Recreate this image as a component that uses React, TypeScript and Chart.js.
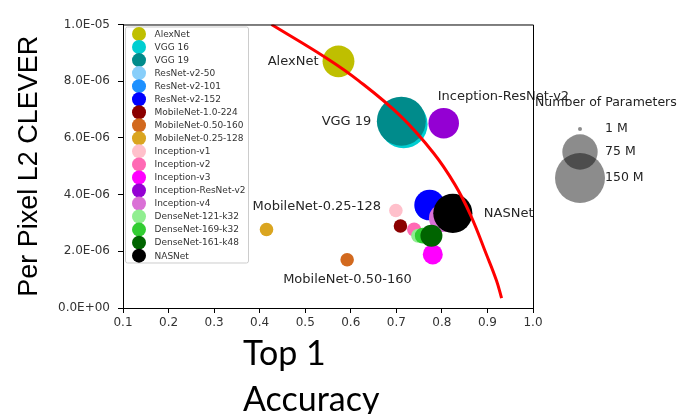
import { useEffect, useRef } from 'react';
import { Chart, registerables } from 'chart.js';

Chart.register(...registerables);

// ---------- data ----------
const models = [
  'AlexNet', 'VGG 16', 'VGG 19', 'ResNet-v2-50', 'ResNet-v2-101', 'ResNet-v2-152',
  'MobileNet-1.0-224', 'MobileNet-0.50-160', 'MobileNet-0.25-128', 'Inception-v1',
  'Inception-v2', 'Inception-v3', 'Inception-ResNet-v2', 'Inception-v4',
  'DenseNet-121-k32', 'DenseNet-169-k32', 'DenseNet-161-k48', 'NASNet',
];
const top1Accuracy = [
  0.573, 0.716, 0.711, 0.764, 0.769, 0.773,
  0.709, 0.592, 0.415, 0.699,
  0.739, 0.780, 0.804, 0.802,
  0.748, 0.758, 0.777, 0.824,
];
const cleverL2 = [
  8.70e-6, 6.48e-6, 6.59e-6, 3.55e-6, 3.58e-6, 3.63e-6,
  2.89e-6, 1.70e-6, 2.77e-6, 3.44e-6,
  2.77e-6, 1.89e-6, 6.52e-6, 3.17e-6,
  2.55e-6, 2.55e-6, 2.55e-6, 3.34e-6,
];
// number of parameters (millions)
const paramsM = [61, 138, 144, 26, 40, 56, 11, 11, 11, 11, 12, 24, 56, 46, 12, 15, 29, 92];
const modelColors = [
  '#bfbf00', '#00ced1', '#008b8b', '#87cefa', '#1e90ff', '#0000ff',
  '#8b0000', '#d2691e', '#daa520', '#ffc0cb',
  '#ff69b4', '#ff00ff', '#9400d3', '#da70d6',
  '#90ee90', '#32cd32', '#006400', '#000000',
];

// red trade-off curve
const frontierX = [0.426, 0.547, 0.617, 0.710, 0.782, 0.828, 0.863, 0.898, 0.920, 0.931];
const frontierY = [10.0e-6, 8.81e-6, 8.02e-6, 6.76e-6, 5.46e-6, 4.37e-6, 3.28e-6, 1.88e-6, 0.96e-6, 0.35e-6];

const sizeLegendParams = [1, 75, 150];
const sizeLegendLabels = ['1 M', '75 M', '150 M'];

const xTitleLines = ['Top 1', 'Accuracy'];
const yTitle = 'Per Pixel L2 CLEVER';

// ---------- styling / layout ----------
const MAX_R = 25; // radius (px) of a 150 M bubble
const radiusFor = (p: number) => MAX_R * Math.sqrt(p / 150);

const annotations = [
  { name: 'AlexNet', dx: -20, dy: 0, align: 'right' },
  { name: 'VGG 19', dx: -30, dy: 0, align: 'right' },
  { name: 'Inception-ResNet-v2', dx: -6, dy: -27, align: 'left' },
  { name: 'NASNet', dx: 31, dy: 0, align: 'left' },
  { name: 'MobileNet-0.25-128', dx: -14, dy: -23, align: 'left' },
  { name: 'MobileNet-0.50-160', dx: -64, dy: 20, align: 'left' },
];

const fmtExp = (v: number) => {
  const [m, e] = Number(v).toExponential(1).split('e');
  const sign = e[0] === '-' ? '-' : '+';
  const digits = e.replace(/^[+-]/, '').padStart(2, '0');
  return `${m}E${sign}${digits}`;
};

const overlayPlugin = {
  id: 'overlay',
  afterDatasetsDraw(chart: any) {
    const { ctx, chartArea } = chart;
    const xs = chart.scales.x;
    const ys = chart.scales.y;
    ctx.save();
    ctx.font = '13px "DejaVu Sans"';
    ctx.fillStyle = '#262626';
    ctx.textBaseline = 'middle';
    annotations.forEach((a) => {
      const i = models.indexOf(a.name);
      const px = xs.getPixelForValue(top1Accuracy[i]);
      const py = ys.getPixelForValue(cleverL2[i]);
      ctx.textAlign = a.align;
      ctx.fillText(a.name, px + a.dx, py + a.dy);
    });
    ctx.strokeStyle = '#000';
    ctx.lineWidth = 1;
    ctx.beginPath();
    ctx.moveTo(chartArea.left, chartArea.top + 0.5);
    ctx.lineTo(chartArea.right + 0.5, chartArea.top + 0.5);
    ctx.lineTo(chartArea.right + 0.5, chartArea.bottom);
    ctx.stroke();
    ctx.restore();
  },
  afterDraw(chart: any) {
    const { ctx, chartArea } = chart;
    ctx.save();
    const lx = chartArea.left + 2.5;
    const ly = chartArea.top + 2.5;
    const lw = 123;
    const lh = 236;
    ctx.fillStyle = 'rgba(255,255,255,0.8)';
    ctx.strokeStyle = '#cccccc';
    ctx.lineWidth = 1;
    ctx.beginPath();
    ctx.roundRect(lx, ly, lw, lh, 2);
    ctx.fill();
    ctx.stroke();
    ctx.font = '9px "DejaVu Sans"';
    ctx.textAlign = 'left';
    ctx.textBaseline = 'middle';
    models.forEach((m, i) => {
      const cy = ly + 7 + i * 13.04;
      ctx.fillStyle = modelColors[i];
      ctx.beginPath();
      ctx.arc(lx + 13.5, cy, 7, 0, Math.PI * 2);
      ctx.fill();
      ctx.fillStyle = '#333';
      ctx.fillText(m, lx + 29, cy + 0.5);
    });

    const sx = chartArea.right + 2;
    ctx.font = '12.5px "DejaVu Sans"';
    ctx.fillStyle = '#222';
    ctx.textAlign = 'left';
    ctx.fillText('Number of Parameters', sx, 103);
    const rowY = [129, 152, 178];
    sizeLegendParams.forEach((p, i) => {
      ctx.fillStyle = 'rgba(0,0,0,0.45)';
      ctx.beginPath();
      ctx.arc(sx + 45, rowY[i], radiusFor(p), 0, Math.PI * 2);
      ctx.fill();
    });
    ctx.fillStyle = '#222';
    sizeLegendLabels.forEach((t, i) => {
      ctx.fillText(t, sx + 70, rowY[i]);
    });

    ctx.fillStyle = '#000';
    ctx.textBaseline = 'alphabetic';
    ctx.save();
    ctx.translate(37, (chartArea.top + chartArea.bottom) / 2);
    ctx.rotate(-Math.PI / 2);
    ctx.textAlign = 'center';
    ctx.font = '27px "Liberation Sans"';
    ctx.fillText(yTitle, 0, 0);
    ctx.restore();
    ctx.textAlign = 'left';
    ctx.font = '34px Lato';
    ctx.fillText(xTitleLines[0], 243, 365);
    ctx.fillText(xTitleLines[1], 243, 411);
    ctx.restore();
  },
};

export default function App() {
  const ref = useRef<HTMLCanvasElement | null>(null);
  useEffect(() => {
    if (!ref.current) return;
    Chart.defaults.font.family = '"DejaVu Sans"';
    const chart = new Chart(ref.current, {
      type: 'bubble',
      data: {
        datasets: [
          {
            type: 'line',
            label: 'frontier',
            data: frontierX.map((x, i) => ({ x, y: frontierY[i] })),
            borderColor: '#ff0000',
            borderWidth: 3,
            pointRadius: 0,
            tension: 0.4,
            fill: false,
            order: 0,
          } as any,
          {
            type: 'bubble',
            label: 'models',
            data: models.map((_, i) => ({ x: top1Accuracy[i], y: cleverL2[i], r: radiusFor(paramsM[i]) })),
            backgroundColor: modelColors,
            borderWidth: 0,
            hoverRadius: 0,
            order: 1,
          },
        ],
      },
      options: {
        animation: false,
        responsive: false,
        events: [],
        layout: { padding: { left: 0, top: 15, right: 146, bottom: 0 } },
        plugins: { legend: { display: false }, tooltip: { enabled: false } },
        scales: {
          x: {
            type: 'linear',
            min: 0.1,
            max: 1.0,
            afterFit: (s: any) => { s.height = 106; },
            grid: { display: true, drawOnChartArea: false, drawTicks: true, tickLength: 5, color: '#000' },
            border: { display: true, color: '#000', width: 1 },
            ticks: {
              stepSize: 0.1,
              padding: 3,
              color: '#333',
              font: { size: 12, family: '"DejaVu Sans"' },
              callback: (v: any) => Number(v).toFixed(1),
            },
          },
          y: {
            type: 'linear',
            min: 0,
            max: 1e-5,
            afterFit: (s: any) => { s.width = 123; },
            grid: { display: true, drawOnChartArea: false, drawTicks: true, tickLength: 5, color: '#000' },
            border: { display: true, color: '#000', width: 1 },
            ticks: {
              stepSize: 2e-6,
              padding: 8,
              color: '#333',
              font: { size: 12, family: '"DejaVu Sans"' },
              callback: (v: any) => fmtExp(Number(v)),
            },
          },
        },
      },
      plugins: [overlayPlugin],
    });
    return () => chart.destroy();
  }, []);
  return (
    <div style={{ position: 'fixed', left: 0, top: 0, width: 679, height: 414, background: '#fff' }}>
      <canvas ref={ref} width={679} height={414} />
    </div>
  );
}
